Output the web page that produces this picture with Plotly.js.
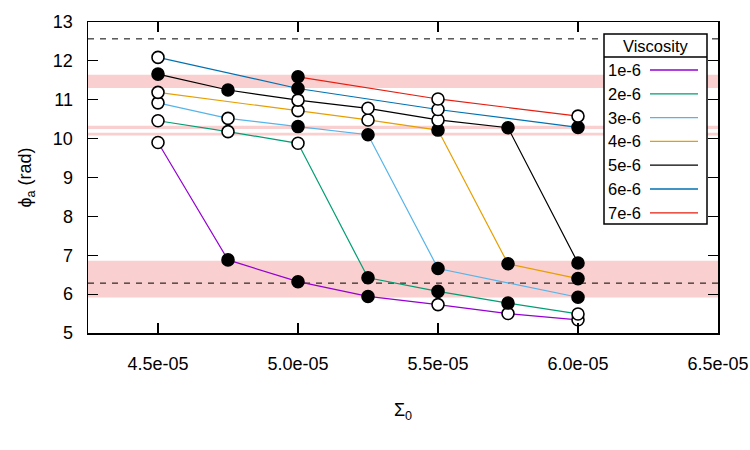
<!DOCTYPE html>
<html>
<head>
<meta charset="utf-8">
<script src="https://cdn.plot.ly/plotly-3.0.1.min.js"></script>
<style>html,body{margin:0;padding:0;background:#fff}#chart{width:750px;height:450px}</style>
</head>
<body>
<div id="chart"></div>
<script>
// ---- data ----
var sigma0 = [4.5e-5, 4.75e-5, 5.0e-5, 5.25e-5, 5.5e-5, 5.75e-5, 6.0e-5];
var viscosityNames = ["1e-6", "2e-6", "3e-6", "4e-6", "5e-6", "6e-6", "7e-6"];
var phi_1e6 = [9.90, 6.88, 6.32, 5.94, 5.73, 5.50, 5.34];
var phi_2e6 = [10.46, 10.18, 9.88, 6.42, 6.07, 5.77, 5.49];
var phi_3e6 = [10.92, 10.52, 10.31, 10.10, 6.66, null, 5.92];
var phi_4e6 = [11.19, null, 10.72, 10.48, 10.22, 6.78, 6.40];
var phi_5e6 = [11.66, 11.25, 10.99, 10.78, 10.48, 10.28, 6.80];
var phi_6e6 = [12.09, null, 11.29, null, 10.75, null, 10.29];
var phi_7e6 = [null, null, 11.59, null, 11.02, null, 10.58];
// 1 = filled marker, 0 = open marker
var filled_1e6 = [0, 1, 1, 1, 0, 0, 0];
var filled_2e6 = [0, 0, 0, 1, 1, 1, 0];
var filled_3e6 = [0, 0, 1, 1, 1, 0, 1];
var filled_4e6 = [0, 0, 0, 0, 1, 1, 1];
var filled_5e6 = [1, 1, 0, 0, 0, 1, 1];
var filled_6e6 = [0, 0, 1, 0, 0, 0, 1];
var filled_7e6 = [0, 0, 1, 0, 0, 0, 0];
var refLines = [4 * Math.PI, 2 * Math.PI];
var bandLow = [11.30, 10.25, 10.08, 5.91];
var bandHigh = [11.64, 10.33, 10.15, 6.86];
var xTickVals = [4.5e-5, 5.0e-5, 5.5e-5, 6.0e-5, 6.5e-5];
var xTickText = ["4.5e-05", "5.0e-05", "5.5e-05", "6.0e-05", "6.5e-05"];

// ---- styles ----
var colors = ["#9400d3", "#009e73", "#56b4e9", "#e69f00", "#000000", "#0072b2", "#e51e10"];
var allPhi = [phi_1e6, phi_2e6, phi_3e6, phi_4e6, phi_5e6, phi_6e6, phi_7e6];
var allFilled = [filled_1e6, filled_2e6, filled_3e6, filled_4e6, filled_5e6, filled_6e6, filled_7e6];
var FONT = "Liberation Sans, Arial, Helvetica, sans-serif";

var traces = [];
allPhi.forEach(function (ys, i) {
  traces.push({
    x: sigma0, y: ys, mode: "lines", connectgaps: true, showlegend: false,
    line: { color: colors[i], width: 1.2 }, hoverinfo: "skip"
  });
});
allPhi.forEach(function (ys, i) {
  traces.push({
    x: sigma0, y: ys, mode: "markers", showlegend: false,
    marker: {
      symbol: "circle", size: 12,
      color: allFilled[i].map(function (f) { return f ? "#000000" : "#ffffff"; }),
      line: { color: "#000000", width: 1.6 }
    }
  });
});

// plot area in pixels
var L = 88, R = 718, T = 22, B = 333;
function px(x) { return (x - L) / (R - L); }
function py(y) { return (B - y) / (B - T); }

var shapes = [];
bandLow.forEach(function (lo, i) {
  shapes.push({ type: "rect", xref: "paper", yref: "y", x0: 0, x1: 1, y0: lo, y1: bandHigh[i],
    fillcolor: "rgba(245,160,160,0.5)", line: { width: 0 }, layer: "below" });
});
refLines.forEach(function (v) {
  shapes.push({ type: "line", xref: "paper", yref: "y", x0: 0, x1: 1, y0: v, y1: v,
    line: { color: "#000000", width: 1, dash: "6px,6px" }, layer: "below" });
});

// custom legend (text left, line sample right)
var annotations = [];
var boxL = 604, boxR = 707, boxT = 34, boxB = 224, sepY = 57;
shapes.push({ type: "rect", xref: "paper", yref: "paper", x0: px(boxL), x1: px(boxR), y0: py(boxB), y1: py(boxT),
  fillcolor: "#ffffff", line: { color: "#000000", width: 1.5 }, layer: "above" });
shapes.push({ type: "line", xref: "paper", yref: "paper", x0: px(boxL), x1: px(boxR), y0: py(sepY), y1: py(sepY),
  line: { color: "#000000", width: 1.5 }, layer: "above" });
annotations.push({ xref: "paper", yref: "paper", x: px((boxL + boxR) / 2), y: py(46), text: "Viscosity",
  showarrow: false, xanchor: "center", yanchor: "middle", font: { family: FONT, size: 16.5, color: "#000" } });
viscosityNames.forEach(function (name, i) {
  var yy = 70 + i * 23.8;
  annotations.push({ xref: "paper", yref: "paper", x: px(606), y: py(yy), text: name, showarrow: false,
    xanchor: "left", yanchor: "middle", font: { family: FONT, size: 16.5, color: "#000" } });
  shapes.push({ type: "line", xref: "paper", yref: "paper", x0: px(650), x1: px(698), y0: py(yy), y1: py(yy),
    line: { color: colors[i], width: 1.3 }, layer: "above" });
});

var layout = {
  width: 750, height: 450,
  margin: { l: L, r: 750 - R, t: T, b: 450 - B, pad: 0 },
  paper_bgcolor: "#ffffff", plot_bgcolor: "#ffffff",
  font: { family: FONT, size: 18, color: "#000000" },
  showlegend: false,
  xaxis: {
    range: [4.25e-5, 6.5e-5], tickvals: xTickVals, ticktext: xTickText,
    ticks: "inside", ticklen: 10, tickwidth: 1.2, tickcolor: "#000",
    showline: true, linecolor: "#000", linewidth: 1.5, mirror: "ticks",
    showgrid: false, zeroline: false, ticklabelstandoff: 14,
    tickfont: { family: FONT, size: 18 },
    title: { text: "Σ<sub>0</sub>", standoff: 30, font: { family: FONT, size: 18 } }
  },
  yaxis: {
    range: [5, 13], dtick: 1, tick0: 5,
    ticks: "inside", ticklen: 10, tickwidth: 1.2, tickcolor: "#000",
    showline: true, linecolor: "#000", linewidth: 1.5, mirror: "ticks",
    showgrid: false, zeroline: false, ticklabelstandoff: 10,
    tickfont: { family: FONT, size: 18 },
    title: { text: "ϕ<sub>a</sub> (rad)", standoff: 16, font: { family: FONT, size: 18 } }
  },
  shapes: shapes,
  annotations: annotations
};

Plotly.newPlot("chart", traces, layout, { staticPlot: true, displayModeBar: false });
</script>
</body>
</html>
